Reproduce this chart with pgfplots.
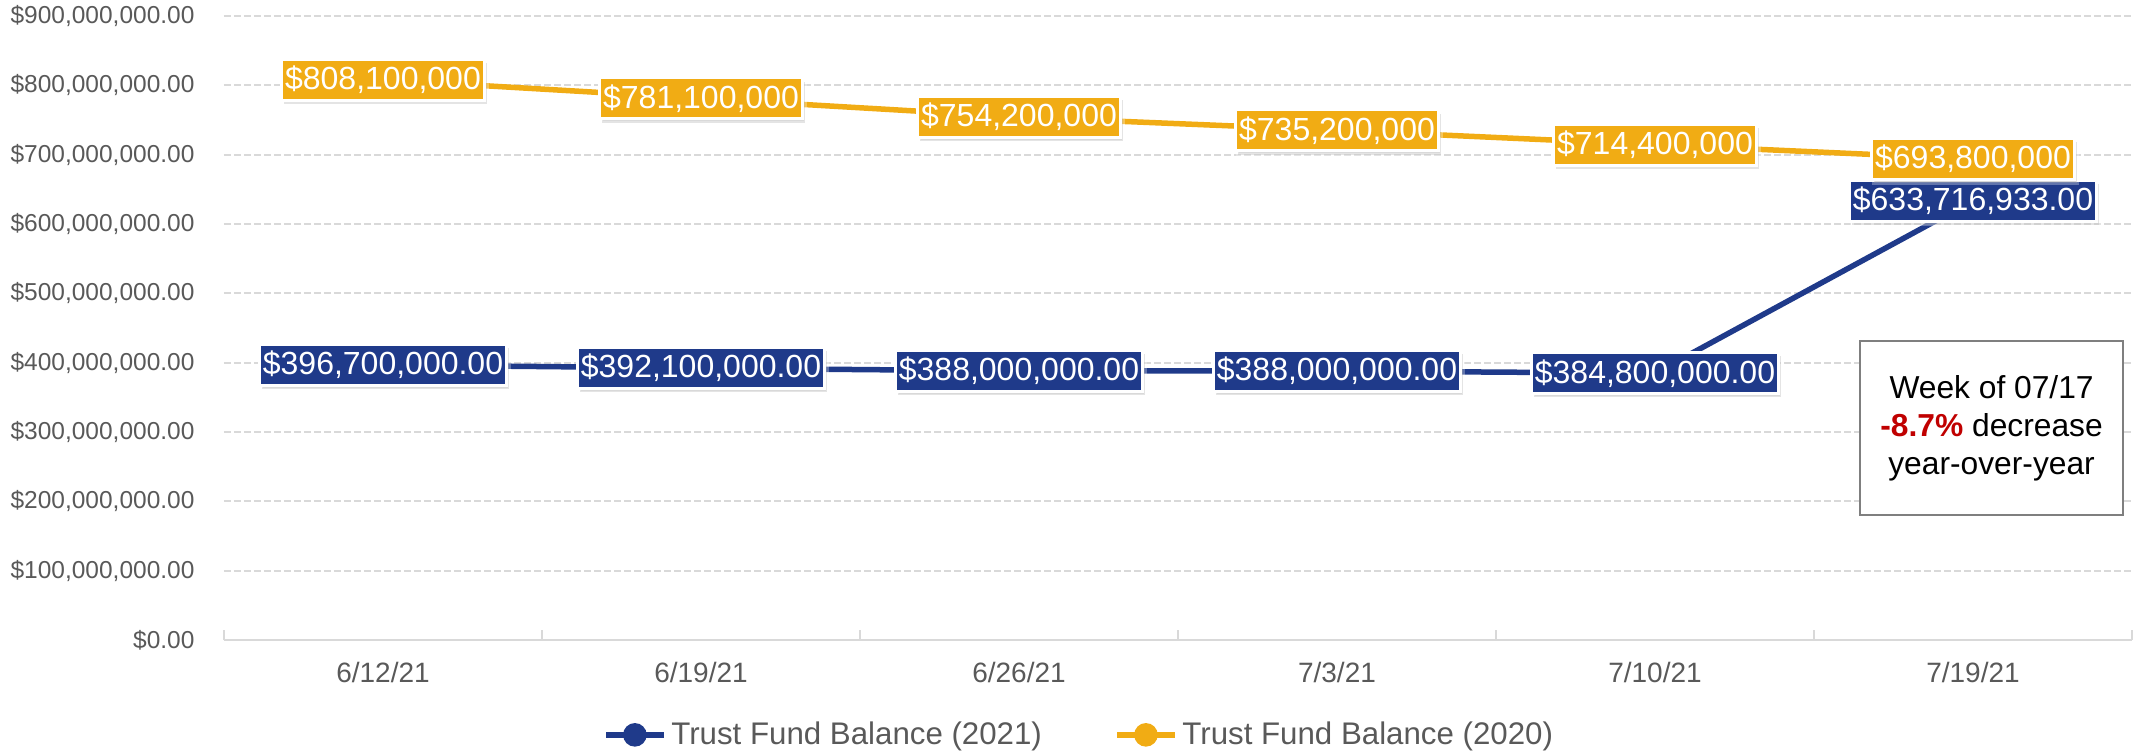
\documentclass[border=0pt]{standalone}
\usepackage{fontspec}
\setmainfont{Liberation Sans}
\usepackage{pgfplots}
\usepackage{pgfplotstable}
\pgfplotsset{compat=1.18}
\usetikzlibrary{shadows}
\definecolor{tfblue}{HTML}{1F3A8A}
\definecolor{tforange}{HTML}{F1AC14}
\definecolor{gridgray}{HTML}{D9D9D9}
\definecolor{txtgray}{HTML}{595959}
\definecolor{boxgray}{HTML}{7F7F7F}
\definecolor{pctred}{HTML}{C00000}

\pgfplotstableread{
x y label
0 396700000 396,700,000.00
1 392100000 392,100,000.00
2 388000000 388,000,000.00
3 388000000 388,000,000.00
4 384800000 384,800,000.00
5 633716933 633,716,933.00
}\tblA

\pgfplotstableread{
x y label
0 808100000 808,100,000
1 781100000 781,100,000
2 754200000 754,200,000
3 735200000 735,200,000
4 714400000 714,400,000
5 693800000 693,800,000
}\tblB

\pgfplotsset{
  dlabel/.style={
    nodes near coords={\$\pgfplotspointmeta},
    point meta=explicit symbolic,
    every node near coord/.append style={anchor=center, fill=#1, text=white, draw=white,
      line width=1.2pt, inner xsep=1.5pt, inner ysep=0pt, minimum height=16.4pt,
      font=\fontsize{12.8}{14}\selectfont,
      drop shadow={opacity=0.3, shadow xshift=1pt, shadow yshift=-1.5pt}}
  },
  legimg/.style={legend image code/.code={
    \draw[line width=2.2pt] (0pt,0pt) -- (23pt,0pt);
    \fill (11.5pt,0pt) circle (3.6pt);}}
}

\begin{document}
\begin{tikzpicture}
\begin{axis}[
  scale only axis, width=763.2pt, height=249.6pt,
  xmin=-0.5, xmax=5.5, ymin=0, ymax=900000000,
  axis x line*=bottom, axis y line*=left,
  y axis line style={draw=none},
  x axis line style={gridgray, line width=0.8pt},
  xtick={0,1,2,3,4,5},
  xticklabels={6/12/21,6/19/21,6/26/21,7/3/21,7/10/21,7/19/21},
  major x tick style={draw=none},
  minor xtick={-0.5,0.5,1.5,2.5,3.5,4.5,5.5},
  minor x tick style={gridgray, line width=0.8pt},
  minor tick length=4pt,
  tick align=inside,
  ytick={0,100000000,200000000,300000000,400000000,500000000,600000000,700000000,800000000,900000000},
  yticklabels={{\$0.00},{\$100,000,000.00},{\$200,000,000.00},{\$300,000,000.00},{\$400,000,000.00},{\$500,000,000.00},{\$600,000,000.00},{\$700,000,000.00},{\$800,000,000.00},{\$900,000,000.00}},
  major y tick style={draw=none},
  ymajorgrids,
  grid style={gridgray, dash pattern=on 2.8pt off 1.2pt, line width=0.8pt},
  xticklabel style={font=\fontsize{11.2}{13}\selectfont, text=txtgray, inner sep=0pt, yshift=-8.5pt},
  yticklabel style={font=\fontsize{9.8}{12}\selectfont, text=txtgray, inner sep=0pt, xshift=-11.6pt},
  legend style={at={(axis description cs:0.449,-0.152)}, anchor=center, draw=none, fill=none,
    font=\fontsize{12.5}{15}\selectfont, text=txtgray, legend columns=2,
    /tikz/every even column/.append style={column sep=27pt}},
  legend cell align=left,
  clip=false,
]
\addplot[tfblue, line width=2.2pt, mark=*, mark size=3.5pt, legimg, dlabel=tfblue] table[x=x, y=y, meta=label]{\tblA};
\addlegendentry{Trust Fund Balance (2021)}
\addplot[tforange, line width=2.2pt, mark=*, mark size=3.5pt, legimg, dlabel=tforange] table[x=x, y=y, meta=label]{\tblB};
\addlegendentry{Trust Fund Balance (2020)}
\node[draw=boxgray, line width=0.6pt, fill=white, minimum width=105.2pt, minimum height=69.6pt,
  align=center, font=\fontsize{12.7}{15.2}\selectfont, text=black]
  at (rel axis cs:0.9264,0.3397) {Week of 07/17\\\textcolor{pctred}{\textbf{-8.7\%}} decrease\\year-over-year};
\coordinate (O) at (rel axis cs:0,0);
\end{axis}
\pgfresetboundingbox
\path[use as bounding box] ([shift={(-89.6pt,-44.4pt)}]O) rectangle ([shift={(764pt,256pt)}]O);
\end{tikzpicture}
\end{document}
